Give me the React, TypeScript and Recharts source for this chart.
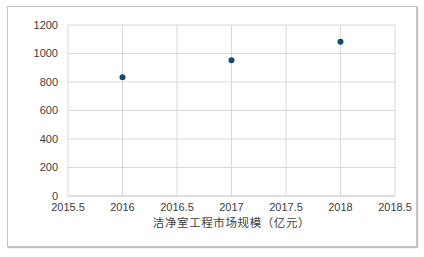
import { CartesianGrid, Scatter, ScatterChart, XAxis, YAxis } from "recharts";

const years = [2016, 2017, 2018];
const marketSize = [833, 952, 1083];
const xTicks = [2015.5, 2016, 2016.5, 2017, 2017.5, 2018, 2018.5];
const yTicks = [0, 200, 400, 600, 800, 1000, 1200];
const axisTitle = "洁净室工程市场规模（亿元）";

const points = years.map((year, i) => ({ year, value: marketSize[i] }));

const TICK = { fontSize: 11, fill: "#404040", fontFamily: "'Liberation Sans', Arial, sans-serif" };

function Dot(props: { cx?: number; cy?: number }) {
  return <circle cx={props.cx} cy={props.cy} r={3} fill="#0e4e6b" />;
}

export default function App() {
  return (
    <div style={{ position: "absolute", left: 0, top: 0, width: 424, height: 257, background: "#fff" }}>
      <div
        style={{
          position: "absolute",
          left: 7,
          top: 6,
          width: 408,
          height: 239,
          border: "1px solid #c4c4c4",
          boxShadow: "1px 1px 1px rgba(0,0,0,0.25)",
        }}
      />
      <ScatterChart
        width={424}
        height={257}
        margin={{ top: 25, right: 29, bottom: 39, left: 0 }}
        style={{ position: "absolute", left: 0, top: 0 }}
      >
        <CartesianGrid stroke="#d9d9d9" />
        <XAxis
          type="number"
          dataKey="year"
          domain={[2015.5, 2018.5]}
          ticks={xTicks}
          tick={TICK}
          tickLine={false}
          tickSize={0}
          tickMargin={7}
          axisLine={{ stroke: "#d0d0d0" }}
          height={22}
          label={{
            value: axisTitle,
            position: "bottom",
            offset: 1,
            style: { fontSize: 11.5, fill: "#404040", letterSpacing: "0.6px", fontFamily: "'Noto Sans CJK SC', sans-serif" },
          }}
        />
        <YAxis
          type="number"
          dataKey="value"
          domain={[0, 1200]}
          ticks={yTicks}
          tick={TICK}
          tickLine={false}
          tickSize={0}
          tickMargin={10}
          axisLine={false}
          width={68}
        />
        <Scatter data={points} shape={<Dot />} isAnimationActive={false} />
      </ScatterChart>
    </div>
  );
}
